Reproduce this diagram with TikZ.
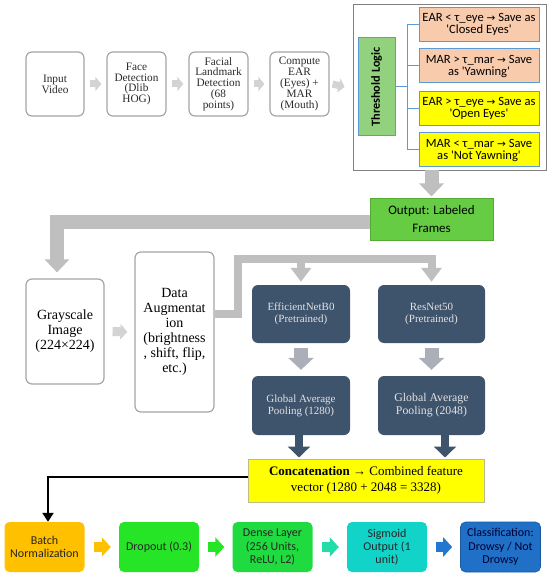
\documentclass[tikz,border=0pt]{standalone}
\usepackage{fontspec}
\usepackage{graphicx}
\setmainfont{Liberation Serif}
\newfontfamily\calf{Carlito}
\newfontfamily\djv{DejaVu Sans}
\usetikzlibrary{arrows.meta,calc}
\newcommand{\thra}{{\djv\fontsize{10.5}{10.5}\selectfont →}}
\definecolor{tgray}{HTML}{A5A5A5}
\definecolor{ttext}{HTML}{2A2A2A}
\definecolor{lgray}{HTML}{D3D3D3}
\definecolor{bgray}{HTML}{BFBFBF}
\definecolor{agray}{HTML}{ABB0B8}
\definecolor{cblue}{HTML}{5B9BD5}
\definecolor{lgreen}{HTML}{92D27F}
\definecolor{salmon}{HTML}{F8CBAD}
\definecolor{yel}{HTML}{FFFF00}
\definecolor{outg}{HTML}{66CC44}
\definecolor{outb}{HTML}{55AA33}
\definecolor{navy}{HTML}{3E536C}
\definecolor{navyt}{HTML}{E3E3E3}
\definecolor{concb}{HTML}{BDBD8A}
\definecolor{orng}{HTML}{FFC000}
\definecolor{grn1}{HTML}{26E526}
\definecolor{grn2}{HTML}{1FDB40}
\definecolor{teal}{HTML}{12D3C8}
\definecolor{tealar}{HTML}{22DDAA}
\definecolor{blu}{HTML}{1F70C6}
\definecolor{bluar}{HTML}{2277D0}
\begin{document}
\begin{tikzpicture}[x=1pt,y=-1pt,
  tbox/.style={draw=tgray, line width=1.2pt, rounded corners=6pt, fill=white, align=center, inner sep=0pt, text=ttext},
  topfont/.style={font=\fontsize{11.3}{10.8}\selectfont},
  cond/.style={draw=cblue, line width=1pt, align=center, inner sep=0pt, text=black,
    font=\calf\fontsize{12.6}{12}\selectfont, minimum width=120pt, minimum height=34pt},
  navybox/.style={fill=navy, rounded corners=6pt, text=navyt, align=center, inner sep=0pt,
    font=\fontsize{11}{12}\selectfont},
  botbox/.style={rounded corners=5pt, align=center, inner sep=0pt, text=black!85,
    font=\calf\fontsize{12}{13.3}\selectfont, minimum width=80pt, minimum height=50pt},
  toparrow/.style={draw=lgray, line width=7pt, -{Triangle[width=14pt,length=6pt]}},
  bigarrow/.style={draw=bgray, line width=14pt, line join=miter, -{Triangle[width=24pt,length=13pt]}},
  midarrow/.style={draw=bgray, line width=8pt, line join=miter, -{Triangle[width=20pt,length=14pt]}},
  grayarrow/.style={draw=agray, line width=14pt, -{Triangle[width=25pt,length=12pt]}},
  navyarrow/.style={draw=navy, line width=8pt, -{Triangle[width=22pt,length=11pt]}},
  botarrow/.style={line width=10pt, -{Triangle[width=19pt,length=9pt]}},
  treeline/.style={draw=cblue, line width=1pt}
]
\useasboundingbox (0,0) rectangle (550,577);

% top row
\node[tbox, topfont, minimum width=58pt, minimum height=64pt] (in) at (55,84) {Input\\Video};
\node[tbox, topfont, minimum width=59pt, minimum height=64pt] (face) at (136.5,84) {Face\\Detection\\(Dlib\\HOG)};
\node[tbox, topfont, minimum width=59pt, minimum height=64pt] (land) at (218.5,84) {Facial\\Landmark\\Detection\\(68\\points)};
\node[tbox, topfont, minimum width=59pt, minimum height=64pt] (comp) at (299.5,84) {Compute\\EAR\\(Eyes) +\\MAR\\(Mouth)};

\draw[toparrow] ([xshift=5pt]in.east) -- ([xshift=-5pt]face.west);
\draw[toparrow] ([xshift=5pt]face.east) -- ([xshift=-5pt]land.west);
\draw[toparrow] ([xshift=5pt]land.east) -- ([xshift=-5pt]comp.west);

% threshold block
\node[draw=gray, line width=0.8pt, fill=white, minimum width=193pt, minimum height=166pt, inner sep=0pt] (thr) at (449.5,87) {};
\draw[toparrow] ([xshift=3pt]comp.east) -- ([xshift=-8pt]thr.west);
\node[draw=cblue, line width=1pt, fill=lgreen, minimum width=37pt, minimum height=98pt, inner sep=0pt] (logic) at (376.5,87)
  {\rotatebox{90}{\calf\bfseries\fontsize{12.3}{12}\selectfont Threshold Logic}};
\node[cond, fill=salmon] (c1) at (479,24.5) {EAR < τ\_eye \thra{} Save as\\'Closed Eyes'};
\node[cond, fill=salmon] (c2) at (479,66) {MAR > τ\_mar \thra{} Save\\as 'Yawning'};
\node[cond, fill=yel] (c3) at (479,108.5) {EAR > τ\_eye \thra{} Save as\\'Open Eyes'};
\node[cond, fill=yel] (c4) at (479,150) {MAR < τ\_mar \thra{} Save\\as 'Not Yawning'};
\coordinate (tj) at ($(logic.east)+(12,0)$);
\draw[treeline] (logic.east) -- (tj);
\draw[treeline] (tj |- c1.west) -- (tj |- c4.west);
\foreach \c in {c1,c2,c3,c4} \draw[treeline] (tj |- \c.west) -- (\c.west);

% output
\node[draw=outb, line width=1pt, fill=outg, minimum width=123pt, minimum height=42pt, inner sep=0pt, align=center,
  font=\calf\fontsize{13}{17.7}\selectfont] (out) at (431.5,219) {Output: Labeled\\Frames};
\draw[bigarrow] (out.north |- thr.south) -- ([yshift=1pt]out.north);

% grayscale + augmentation
\node[tbox, text=black, font=\fontsize{14}{15}\selectfont, minimum width=78pt, minimum height=105pt] (gray) at (65,331.5) {Grayscale\\Image\\(224×224)};
\node[tbox, text=black, font=\fontsize{14}{14.9}\selectfont, minimum width=79pt, minimum height=160pt] (aug) at (174.5,332) {Data\\Augmentat\\ion\\(brightness\\, shift, flip,\\etc.)};
\draw[bigarrow] ([yshift=-2.5pt]out.west) -| ([xshift=-8pt,yshift=6pt]gray.north);
\draw[botarrow, draw=lgray, -{Triangle[width=15pt,length=7pt]}, line width=9pt] ([xshift=8pt]gray.east) -- ([xshift=-7pt]aug.west);

% CNN branches
\node[navybox, minimum width=98pt, minimum height=58pt] (eff) at (301,314) {EfficientNetB0\\(Pretrained)};
\node[navybox, minimum width=107pt, minimum height=58pt] (res) at (431.5,314) {ResNet50\\(Pretrained)};
\node[navybox, minimum width=98pt, minimum height=59pt] (gap1) at (301,405.5) {Global Average\\Pooling (1280)};
\node[navybox, font=\fontsize{11.8}{12.8}\selectfont, minimum width=107pt, minimum height=59pt] (gap2) at (431.5,405.5) {Global Average\\Pooling (2048)};

\coordinate (bj) at (237.5,258.5);
\draw[midarrow] ([yshift=18pt]aug.east) -| (bj) -| ([yshift=3pt]res.north);
\draw[midarrow] (bj -| eff.north) -- ([yshift=3pt]eff.north);

\draw[grayarrow] ([yshift=-5pt]eff.south) -- ([yshift=6pt]gap1.north);
\draw[grayarrow] ([yshift=-5pt]res.south) -- ([yshift=6pt]gap2.north);

% concatenation
\node[draw=concb, line width=1pt, fill=yel, minimum width=236pt, minimum height=43pt, inner sep=0pt, align=center,
  font=\fontsize{13}{16}\selectfont] (conc) at (366,480.5) {\textbf{Concatenation} → Combined feature\\vector (1280 + 2048 = 3328)};
\draw[navyarrow] ([xshift=-2pt]gap1.south) -- ([xshift=-2pt,yshift=1pt]gap1.south |- conc.north);
\coordinate (g2s) at ([xshift=13.5pt]gap2.south);
\draw[navyarrow] (g2s) -- ([yshift=1pt]g2s |- conc.north);

% bottom row
\node[botbox, fill=orng] (bn) at (44.5,547) {Batch\\Normalization};
\node[botbox, fill=grn1] (drop) at (159,547) {Dropout (0.3)};
\node[botbox, fill=grn2] (dense) at (272.5,547) {Dense Layer\\(256 Units,\\ReLU, L2)};
\node[botbox, fill=teal] (sig) at (387,547) {Sigmoid\\Output (1\\unit)};
\node[botbox, fill=blu, draw=blu!80!black, line width=0.6pt, text=black!80!blue] (cls) at (500.5,547) {Classification:\\Drowsy / Not\\Drowsy};

\draw[black, line width=2.5pt, line join=miter, -{Triangle[width=11pt,length=9pt]}] ([yshift=3.5pt]conc.west) -| ([xshift=3.5pt]bn.north);

\draw[botarrow, draw=orng] ([xshift=9pt]bn.east) -- ([xshift=-8pt]drop.west);
\draw[botarrow, draw=grn1] ([xshift=9pt]drop.east) -- ([xshift=-8pt]dense.west);
\draw[botarrow, draw=tealar] ([xshift=9pt]dense.east) -- ([xshift=-8pt]sig.west);
\draw[botarrow, draw=bluar] ([xshift=9pt]sig.east) -- ([xshift=-8pt]cls.west);
\end{tikzpicture}
\end{document}
